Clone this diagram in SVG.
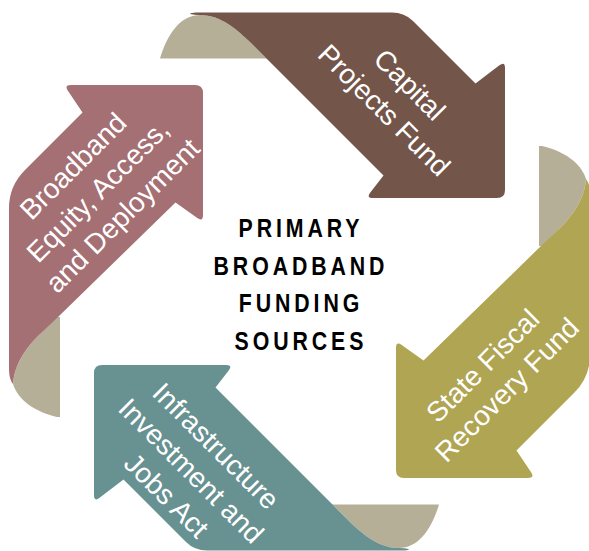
<svg xmlns="http://www.w3.org/2000/svg" xmlns:xlink="http://www.w3.org/1999/xlink" width="589" height="551" viewBox="0 0 589 551">
<style>
.tan{fill:#B6AF98}
.brown{fill:#73554A}
.olive{fill:#AFA553}
.teal{fill:#679291}
.rose{fill:#A57074}
.lbl{fill:#FFFFFF;font-family:"Liberation Sans",Arial,sans-serif;font-size:28px;text-anchor:middle}
.title{fill:#000000;font-family:"Liberation Sans",Arial,sans-serif;font-size:26px;font-weight:bold;letter-spacing:4.76px;text-anchor:middle}
</style>
<defs>
<path id="foldA" d="M160,58.5 C167,35 180,15 200,15 C225,15 243,35 265,57 L282,58.5 Z"/>
<path id="ribbonA" d="M190,14 Q191,12.5 196,12.5 L392,12.5 Q404.5,12.5 413,21 L475.5,83.5 L499.4,65.2 Q505,61 505,68 L505,190 Q505,198 497,198 L373,198 Q366,198 370.3,192.5 L383.5,175.5 L265,57 C243,35 225,15 200,15 Q194,15 190,14 Z"/>
<path id="foldB" d="M57,417 C35,412 18,400 13,384 C14,368 22,352 38,336 L57,317 L60,317 L60,417 Z"/>
<path id="ribbonB" d="M71,85 L195,85 Q203,85 203,93 L203,215 Q203,222 197.3,218 L175.5,202.5 L57,318 L38,336 C22,352 14,368 13,384 C10,380 9,375 9,368 L9,208 Q9,186 25,170 L82.5,112.5 L67.9,90.8 Q64,85 71,85 Z"/>
</defs>

<g id="node-capital">
<use xlink:href="#foldA" class="tan"/>
<use xlink:href="#ribbonA" class="brown"/>
<g transform="translate(397.25,97.25) rotate(45)">
<text class="lbl" x="0" y="-8">Capital</text>
<text class="lbl" x="0" y="28">Projects Fund</text>
</g>
</g>

<g id="node-state-fiscal">
<g transform="rotate(180 299.5 281.5)">
<use xlink:href="#foldB" class="tan"/>
<use xlink:href="#ribbonB" class="olive"/>
</g>
<g transform="translate(494.5,377.5) rotate(-45)">
<text class="lbl" x="0" y="-7">State Fiscal</text>
<text class="lbl" x="0" y="27">Recovery Fund</text>
</g>
</g>

<g id="node-infrastructure">
<g transform="rotate(180 299.5 281.5)">
<use xlink:href="#foldA" class="tan"/>
<use xlink:href="#ribbonA" class="teal"/>
</g>
<g transform="translate(191.5,470.5) rotate(45)">
<text class="lbl" x="0" y="-25">Infrastructure</text>
<text class="lbl" x="0" y="10">Investment and</text>
<text class="lbl" x="0" y="45">Jobs Act</text>
</g>
</g>

<g id="node-broadband">
<use xlink:href="#foldB" class="tan"/>
<use xlink:href="#ribbonB" class="rose"/>
<g transform="translate(97.5,190.5) rotate(-45)">
<text class="lbl" x="0" y="-25">Broadband</text>
<text class="lbl" x="0" y="10">Equity, Access,</text>
<text class="lbl" x="0" y="45">and Deployment</text>
</g>
</g>

<g id="node-title" transform="translate(299,0) scale(0.82,1)">
<text class="title" x="2.4" y="237">PRIMARY</text>
<text class="title" x="2.4" y="275">BROADBAND</text>
<text class="title" x="2.4" y="312.5">FUNDING</text>
<text class="title" x="2.4" y="350">SOURCES</text>
</g>
</svg>
